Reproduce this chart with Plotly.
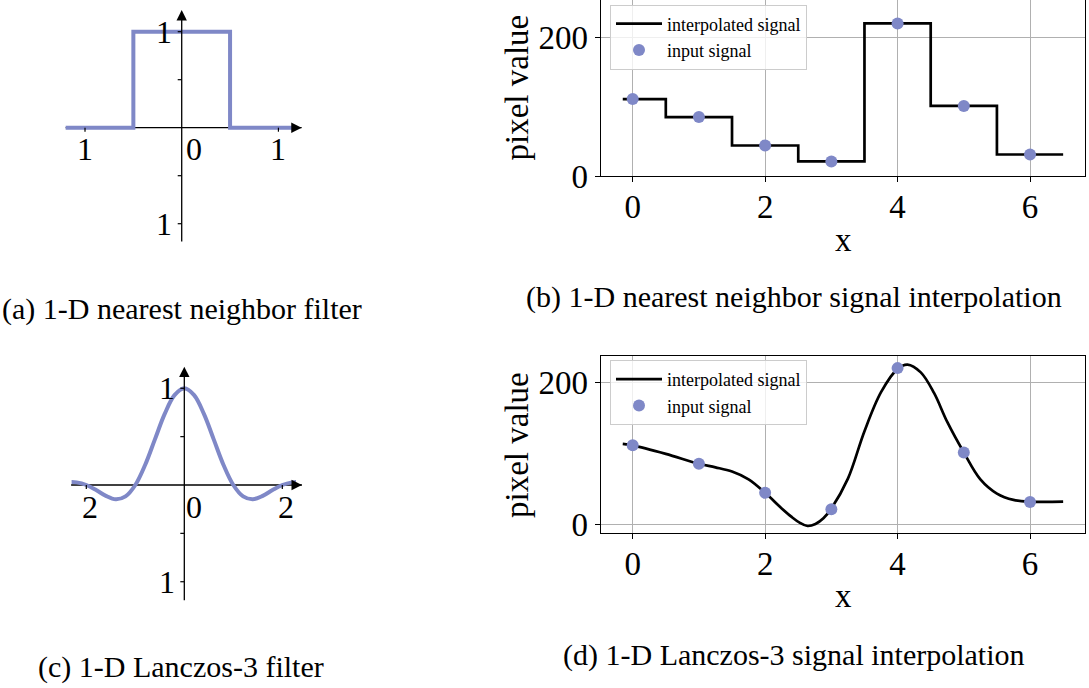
import plotly.graph_objects as go

W, H = 1089, 688          # reference picture size (all positions below are measured in it)
FIG_H = 707               # rendered page height (the capture is rescaled to 688)
KY = FIG_H / H
FONT = "Liberation Serif, Times New Roman, serif"
BLUE = "#7F88C7"

# ---------------- data ----------------
# input signal (panels b, d)
sig_x = [0, 1, 2, 3, 4, 5, 6]
sig_y = [111, 85, 44, 21, 220, 101, 31]
sig_xticks = [0, 2, 4, 6]
sig_yticks = [0, 200]

# nearest-neighbour interpolated signal (panel b)
nn_x = [-0.15, 0, 1, 2, 3, 4, 5, 6, 6.5]
nn_y = [111, 111, 85, 44, 21, 220, 101, 31, 31]

# Lanczos-3 interpolated signal (panel d)
lz_x = [-0.15, 0, 0.5, 1, 1.25, 1.5, 1.75, 2, 2.25, 2.4, 2.52, 2.64, 2.76, 2.88, 3, 3.25,
        3.5, 3.75, 4, 4.15, 4.35, 4.55, 4.75, 5, 5.25, 5.5, 5.75, 6, 6.5]
lz_y = [113, 111, 99, 85, 80, 74, 63, 44, 22, 10, 2, -2.8, 0, 8, 22, 64,
        131, 186, 219, 225, 214, 185, 144, 101, 63, 43, 34, 31.5, 31.5]

# nearest neighbour filter (panel a)
box_x = [-1.2, -0.5, -0.5, 0.5, 0.5, 1.18]
box_y = [0, 0, 1, 1, 0, 0]
a_xticks = [-1, 1]
a_yticks = [-1, -0.5, 0.5, 1]
a_xlabels = [(-1, "1"), (0, "0"), (1, "1")]
a_ylabels = [(1, "1"), (-1, "1")]

# Lanczos-3 filter (panel c)
kern_x = [-2.3, -2.2, -2.0, -1.8, -1.6, -1.4, -1.2, -1.0, -0.8, -0.6, -0.4, -0.2, 0.0,
          0.2, 0.4, 0.6, 0.8, 1.0, 1.2, 1.4, 1.6, 1.8, 2.0, 2.2, 2.28]
kern_y = [0.03, 0.027, 0.0, -0.052, -0.112, -0.147, -0.118, 0.0, 0.207, 0.472, 0.735, 0.929, 1.0,
          0.929, 0.735, 0.472, 0.207, 0.0, -0.118, -0.147, -0.112, -0.052, 0.0, 0.027, 0.03]
c_xticks = [-2, 2]
c_yticks = [-1, -0.5, 0.5, 1]
c_xlabels = [(-2, "2"), (0, "0"), (2, "2")]
c_ylabels = [(1, "1"), (-1, "1")]

captions = ["(a) 1-D nearest neighbor filter",
            "(b) 1-D nearest neighbor signal interpolation",
            "(c) 1-D Lanczos-3 filter",
            "(d) 1-D Lanczos-3 signal interpolation"]


def dx(p0, p1):
    return [p0 / W, p1 / W]


def dy(top, bottom):
    return [1 - bottom / H, 1 - top / H]


fig = go.Figure()

# panel b
fig.add_trace(go.Scatter(x=nn_x, y=nn_y, mode="lines", name="interpolated signal",
                         line=dict(color="black", width=2.7, shape="hvh"),
                         xaxis="x", yaxis="y", legend="legend"))
fig.add_trace(go.Scatter(x=sig_x, y=sig_y, mode="markers", name="input signal",
                         marker=dict(color=BLUE, size=12),
                         xaxis="x", yaxis="y", legend="legend"))
# panel d
fig.add_trace(go.Scatter(x=lz_x, y=lz_y, mode="lines", name="interpolated signal",
                         line=dict(color="black", width=2.7, shape="spline", smoothing=1),
                         xaxis="x2", yaxis="y2", legend="legend2"))
fig.add_trace(go.Scatter(x=sig_x, y=sig_y, mode="markers", name="input signal",
                         marker=dict(color=BLUE, size=12),
                         xaxis="x2", yaxis="y2", legend="legend2"))
# panel a
fig.add_trace(go.Scatter(x=box_x, y=box_y, mode="lines", showlegend=False,
                         line=dict(color=BLUE, width=4),
                         xaxis="x3", yaxis="y3"))
# panel c
fig.add_trace(go.Scatter(x=kern_x, y=kern_y, mode="lines", showlegend=False,
                         line=dict(color=BLUE, width=4, shape="spline", smoothing=1),
                         xaxis="x4", yaxis="y4"))

axcommon = dict(showgrid=True, gridcolor="#b0b0b0", gridwidth=1, showline=True,
                linecolor="black", linewidth=1.3, ticks="outside", ticklen=5,
                tickwidth=1.3, tickcolor="black", zeroline=False,
                tickfont=dict(family=FONT, size=33, color="black"))

legcommon = dict(xanchor="left", yanchor="top", itemwidth=46,
                 bgcolor="rgba(255,255,255,0.8)", bordercolor="#cccccc", borderwidth=1,
                 font=dict(family=FONT, size=18, color="black"))

fig.update_layout(
    width=W, height=FIG_H, margin=dict(l=0, r=0, t=0, b=0),
    paper_bgcolor="white", plot_bgcolor="white",
    font=dict(family=FONT, color="black"),
    xaxis=dict(domain=dx(600.7, 1085), range=[-0.483, 6.83], anchor="y",
               tickvals=sig_xticks, mirror=False, ticklabelstandoff=-4, **axcommon),
    yaxis=dict(domain=dy(0, 176), range=[0, 253.8], anchor="x",
               tickvals=sig_yticks, mirror=True, **axcommon),
    xaxis2=dict(domain=dx(600.7, 1085), range=[-0.483, 6.83], anchor="y2",
                tickvals=sig_xticks, mirror=True, ticklabelstandoff=-4, **axcommon),
    yaxis2=dict(domain=dy(356, 533.3), range=[-13.1, 237.1], anchor="x2",
                tickvals=sig_yticks, mirror=True, **axcommon),
    xaxis3=dict(domain=dx(50, 320), range=[-1.362, 1.430], anchor="y3", visible=False),
    yaxis3=dict(domain=dy(0, 260), range=[-1.378, 1.330], anchor="x3", visible=False),
    xaxis4=dict(domain=dx(50, 320), range=[-2.741, 2.769], anchor="y4", visible=False),
    yaxis4=dict(domain=dy(355, 615), range=[-1.344, 1.344], anchor="x4", visible=False),
    legend=dict(x=610 / W, y=1 - 4.5 / H, **legcommon),
    legend2=dict(x=610 / W, y=1 - 360 / H, **legcommon),
)

shapes = []
annotations = []


def filter_axes(xr, yr, xend, xtip, ybot, ytip, xticks, yticks, xlabels, ylabels,
                zero_shift, xlab_shift, ylab_shift):
    # x axis line (below data), arrow head
    shapes.append(dict(type="line", xref=xr, yref=yr, x0=xend, x1=xtip, y0=0, y1=0,
                       line=dict(color="black", width=1.3), layer="below"))
    span = xtip - xend
    annotations.append(dict(x=xtip, y=0, ax=xtip - span * 0.02, ay=0, xref=xr, yref=yr,
                            axref=xr, ayref=yr, text="", showarrow=True, arrowhead=2,
                            arrowsize=1.6, arrowwidth=1.3, arrowcolor="black"))
    # y axis with arrow
    annotations.append(dict(x=0, y=ytip, ax=0, ay=ybot, xref=xr, yref=yr,
                            axref=xr, ayref=yr, text="", showarrow=True, arrowhead=2,
                            arrowsize=1.6, arrowwidth=1.3, arrowcolor="black"))
    for t in xticks:
        shapes.append(dict(type="line", xref=xr, yref=yr, x0=t, x1=t, ysizemode="pixel",
                           yanchor=0, y0=-4, y1=0, line=dict(color="black", width=1.2)))
    for t in yticks:
        shapes.append(dict(type="line", xref=xr, yref=yr, y0=t, y1=t, xsizemode="pixel",
                           xanchor=0, x0=-4, x1=0, line=dict(color="black", width=1.2)))
    for v, s in xlabels:
        annotations.append(dict(x=v, y=0, xref=xr, yref=yr, text=s, showarrow=False,
                                xanchor="center", yanchor="middle",
                                xshift=(zero_shift if v == 0 else xlab_shift), yshift=-21 * KY,
                                font=dict(family=FONT, size=32, color="black")))
    for v, s in ylabels:
        annotations.append(dict(x=0, y=v, xref=xr, yref=yr, text=s, showarrow=False,
                                xanchor="center", yanchor="middle",
                                xshift=ylab_shift, yshift=0,
                                font=dict(family=FONT, size=32, color="black")))


filter_axes("x3", "y3", -1.2, 1.24, -1.2, 1.226, a_xticks, a_yticks, a_xlabels, a_ylabels,
            12, 0, -18)
filter_axes("x4", "y4", -2.31, 2.40, -1.207, 1.223, c_xticks, c_yticks, c_xlabels, c_ylabels,
            10, 4, -17)

# axis titles
for yc, xc_y in [(87.5, 239.5), (445, 596)]:
    annotations.append(dict(x=517 / W, y=1 - yc / H, xref="paper", yref="paper",
                            xanchor="center", yanchor="middle",
                            text="pixel value", textangle=-90, showarrow=False,
                            font=dict(family=FONT, size=33, color="black")))
    annotations.append(dict(x=843 / W, y=1 - xc_y / H, xref="paper", yref="paper",
                            xanchor="center", yanchor="middle",
                            text="x", showarrow=False,
                            font=dict(family=FONT, size=33, color="black")))

# captions
for txt, (cx, cy) in zip(captions, [(182, 309), (794, 297), (181, 667), (794, 655)]):
    annotations.append(dict(x=cx / W, y=1 - cy / H, xref="paper", yref="paper",
                            xanchor="center", yanchor="middle",
                            text=txt, showarrow=False,
                            font=dict(family=FONT, size=30, color="black")))

fig.update_layout(shapes=shapes, annotations=annotations)
fig.write_html("out.html",
               config={"displayModeBar": False},
               post_script="document.body.style.margin='0px';"
                           "document.body.style.overflow='hidden';")
